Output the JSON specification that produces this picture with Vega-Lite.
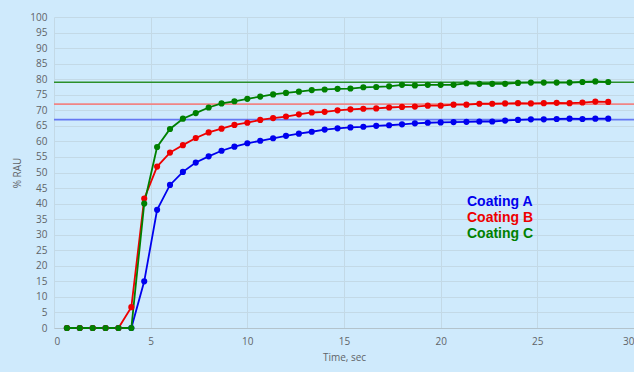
{
  "$schema": "https://vega.github.io/schema/vega-lite/v6.json",
  "width": 580,
  "height": 311,
  "autosize": {"type": "none"},
  "padding": {"left": 54, "top": 17, "right": 0, "bottom": 44},
  "background": "#cfeafc",
  "config": {
    "view": {"stroke": null},
    "font": "Open Sans",
    "axis": {
      "labelColor": "#5f6468",
      "titleColor": "#5f6468",
      "labelFontSize": 10,
      "titleFontSize": 10,
      "titleFontWeight": "normal",
      "ticks": false,
      "gridColor": "#c3d9e6",
      "gridWidth": 1
    }
  },
  "datasets": {
    "series": [
      {"x": 0.667, "y": 0, "s": "Coating A"}, {"x": 1.333, "y": 0, "s": "Coating A"}, {"x": 2, "y": 0, "s": "Coating A"}, {"x": 2.667, "y": 0, "s": "Coating A"}, {"x": 3.333, "y": 0, "s": "Coating A"}, {"x": 4, "y": 0, "s": "Coating A"}, {"x": 4.667, "y": 15, "s": "Coating A"}, {"x": 5.333, "y": 38, "s": "Coating A"}, {"x": 6, "y": 46, "s": "Coating A"}, {"x": 6.667, "y": 50.2, "s": "Coating A"}, {"x": 7.333, "y": 53.2, "s": "Coating A"}, {"x": 8, "y": 55.2, "s": "Coating A"}, {"x": 8.667, "y": 57, "s": "Coating A"}, {"x": 9.333, "y": 58.3, "s": "Coating A"}, {"x": 10, "y": 59.4, "s": "Coating A"}, {"x": 10.667, "y": 60.2, "s": "Coating A"}, {"x": 11.333, "y": 61, "s": "Coating A"}, {"x": 12, "y": 61.8, "s": "Coating A"}, {"x": 12.667, "y": 62.5, "s": "Coating A"}, {"x": 13.333, "y": 63.1, "s": "Coating A"}, {"x": 14, "y": 63.8, "s": "Coating A"}, {"x": 14.667, "y": 64.2, "s": "Coating A"}, {"x": 15.333, "y": 64.5, "s": "Coating A"}, {"x": 16, "y": 64.7, "s": "Coating A"}, {"x": 16.667, "y": 65, "s": "Coating A"}, {"x": 17.333, "y": 65.2, "s": "Coating A"}, {"x": 18, "y": 65.5, "s": "Coating A"}, {"x": 18.667, "y": 65.8, "s": "Coating A"}, {"x": 19.333, "y": 66, "s": "Coating A"}, {"x": 20, "y": 66.1, "s": "Coating A"}, {"x": 20.667, "y": 66.2, "s": "Coating A"}, {"x": 21.333, "y": 66.3, "s": "Coating A"}, {"x": 22, "y": 66.4, "s": "Coating A"}, {"x": 22.667, "y": 66.4, "s": "Coating A"}, {"x": 23.333, "y": 66.7, "s": "Coating A"}, {"x": 24, "y": 66.9, "s": "Coating A"}, {"x": 24.667, "y": 67.1, "s": "Coating A"}, {"x": 25.333, "y": 67.1, "s": "Coating A"}, {"x": 26, "y": 67.2, "s": "Coating A"}, {"x": 26.667, "y": 67.3, "s": "Coating A"}, {"x": 27.333, "y": 67.2, "s": "Coating A"}, {"x": 28, "y": 67.3, "s": "Coating A"}, {"x": 28.667, "y": 67.3, "s": "Coating A"},
      {"x": 0.667, "y": 0, "s": "Coating B"}, {"x": 1.333, "y": 0, "s": "Coating B"}, {"x": 2, "y": 0, "s": "Coating B"}, {"x": 2.667, "y": 0, "s": "Coating B"}, {"x": 3.333, "y": 0, "s": "Coating B"}, {"x": 4, "y": 6.7, "s": "Coating B"}, {"x": 4.667, "y": 41.6, "s": "Coating B"}, {"x": 5.333, "y": 51.9, "s": "Coating B"}, {"x": 6, "y": 56.4, "s": "Coating B"}, {"x": 6.667, "y": 58.8, "s": "Coating B"}, {"x": 7.333, "y": 61.1, "s": "Coating B"}, {"x": 8, "y": 62.9, "s": "Coating B"}, {"x": 8.667, "y": 64.1, "s": "Coating B"}, {"x": 9.333, "y": 65.3, "s": "Coating B"}, {"x": 10, "y": 66, "s": "Coating B"}, {"x": 10.667, "y": 66.9, "s": "Coating B"}, {"x": 11.333, "y": 67.5, "s": "Coating B"}, {"x": 12, "y": 68, "s": "Coating B"}, {"x": 12.667, "y": 68.7, "s": "Coating B"}, {"x": 13.333, "y": 69.3, "s": "Coating B"}, {"x": 14, "y": 69.5, "s": "Coating B"}, {"x": 14.667, "y": 70, "s": "Coating B"}, {"x": 15.333, "y": 70.3, "s": "Coating B"}, {"x": 16, "y": 70.5, "s": "Coating B"}, {"x": 16.667, "y": 70.6, "s": "Coating B"}, {"x": 17.333, "y": 70.9, "s": "Coating B"}, {"x": 18, "y": 71.1, "s": "Coating B"}, {"x": 18.667, "y": 71.2, "s": "Coating B"}, {"x": 19.333, "y": 71.5, "s": "Coating B"}, {"x": 20, "y": 71.5, "s": "Coating B"}, {"x": 20.667, "y": 71.8, "s": "Coating B"}, {"x": 21.333, "y": 71.8, "s": "Coating B"}, {"x": 22, "y": 72.1, "s": "Coating B"}, {"x": 22.667, "y": 72.1, "s": "Coating B"}, {"x": 23.333, "y": 72.2, "s": "Coating B"}, {"x": 24, "y": 72.3, "s": "Coating B"}, {"x": 24.667, "y": 72.2, "s": "Coating B"}, {"x": 25.333, "y": 72.3, "s": "Coating B"}, {"x": 26, "y": 72.4, "s": "Coating B"}, {"x": 26.667, "y": 72.3, "s": "Coating B"}, {"x": 27.333, "y": 72.5, "s": "Coating B"}, {"x": 28, "y": 72.8, "s": "Coating B"}, {"x": 28.667, "y": 72.7, "s": "Coating B"},
      {"x": 0.667, "y": 0, "s": "Coating C"}, {"x": 1.333, "y": 0, "s": "Coating C"}, {"x": 2, "y": 0, "s": "Coating C"}, {"x": 2.667, "y": 0, "s": "Coating C"}, {"x": 3.333, "y": 0, "s": "Coating C"}, {"x": 4, "y": 0, "s": "Coating C"}, {"x": 4.667, "y": 40, "s": "Coating C"}, {"x": 5.333, "y": 58.2, "s": "Coating C"}, {"x": 6, "y": 64, "s": "Coating C"}, {"x": 6.667, "y": 67.3, "s": "Coating C"}, {"x": 7.333, "y": 69.1, "s": "Coating C"}, {"x": 8, "y": 70.9, "s": "Coating C"}, {"x": 8.667, "y": 72.2, "s": "Coating C"}, {"x": 9.333, "y": 72.9, "s": "Coating C"}, {"x": 10, "y": 73.7, "s": "Coating C"}, {"x": 10.667, "y": 74.4, "s": "Coating C"}, {"x": 11.333, "y": 75.1, "s": "Coating C"}, {"x": 12, "y": 75.6, "s": "Coating C"}, {"x": 12.667, "y": 76, "s": "Coating C"}, {"x": 13.333, "y": 76.5, "s": "Coating C"}, {"x": 14, "y": 76.7, "s": "Coating C"}, {"x": 14.667, "y": 76.9, "s": "Coating C"}, {"x": 15.333, "y": 77, "s": "Coating C"}, {"x": 16, "y": 77.4, "s": "Coating C"}, {"x": 16.667, "y": 77.5, "s": "Coating C"}, {"x": 17.333, "y": 77.7, "s": "Coating C"}, {"x": 18, "y": 78.2, "s": "Coating C"}, {"x": 18.667, "y": 78, "s": "Coating C"}, {"x": 19.333, "y": 78.2, "s": "Coating C"}, {"x": 20, "y": 78.2, "s": "Coating C"}, {"x": 20.667, "y": 78.2, "s": "Coating C"}, {"x": 21.333, "y": 78.7, "s": "Coating C"}, {"x": 22, "y": 78.5, "s": "Coating C"}, {"x": 22.667, "y": 78.5, "s": "Coating C"}, {"x": 23.333, "y": 78.5, "s": "Coating C"}, {"x": 24, "y": 78.8, "s": "Coating C"}, {"x": 24.667, "y": 78.9, "s": "Coating C"}, {"x": 25.333, "y": 78.9, "s": "Coating C"}, {"x": 26, "y": 78.9, "s": "Coating C"}, {"x": 26.667, "y": 78.9, "s": "Coating C"}, {"x": 27.333, "y": 79.1, "s": "Coating C"}, {"x": 28, "y": 79.3, "s": "Coating C"}, {"x": 28.667, "y": 79.1, "s": "Coating C"}
    ],
    "plateaus": [
      {"s": "Coating A", "v": 67},
      {"s": "Coating B", "v": 72},
      {"s": "Coating C", "v": 79}
    ]
  },
  "layer": [
    {
      "data": {"name": "plateaus"},
      "mark": {"type": "rule", "strokeWidth": 1.6},
      "encoding": {
        "y": {
          "field": "v",
          "type": "quantitative",
          "scale": {"domain": [0, 100], "nice": false},
          "axis": {
            "values": [0, 5, 10, 15, 20, 25, 30, 35, 40, 45, 50, 55, 60, 65, 70, 75, 80, 85, 90, 95, 100],
            "title": "% RAU",
            "domain": false,
            "labelPadding": 7,
            "titlePadding": 7,
            "grid": true
          }
        },
        "stroke": {
          "field": "s",
          "type": "nominal",
          "scale": {"domain": ["Coating C", "Coating B", "Coating A"], "range": ["#2b8f2b", "#f08585", "#6678f2"]},
          "legend": null
        }
      }
    },
    {
      "data": {"name": "series"},
      "mark": {"type": "line", "strokeWidth": 1.8, "point": {"filled": true, "size": 38, "opacity": 1}},
      "encoding": {
        "x": {
          "field": "x",
          "type": "quantitative",
          "scale": {"domain": [0, 30], "nice": false},
          "axis": {
            "orient": "bottom",
            "values": [0, 5, 10, 15, 20, 25, 30],
            "title": "Time, sec",
            "domainColor": "#b3c3cc",
            "labelPadding": 8,
            "titlePadding": 6,
            "grid": true
          }
        },
        "y": {
          "field": "y",
          "type": "quantitative",
          "scale": {"domain": [0, 100], "nice": false},
          "axis": {
            "values": [0, 5, 10, 15, 20, 25, 30, 35, 40, 45, 50, 55, 60, 65, 70, 75, 80, 85, 90, 95, 100],
            "title": "% RAU",
            "domain": false,
            "labelPadding": 7,
            "titlePadding": 7,
            "grid": true
          }
        },
        "color": {
          "field": "s",
          "type": "nominal",
          "scale": {"domain": ["Coating A", "Coating B", "Coating C"], "range": ["#0000ee", "#ee0000", "#008000"]},
          "legend": {
            "title": null,
            "orient": "none",
            "legendX": 399,
            "legendY": 178,
            "padding": 0,
            "symbolSize": 1,
            "symbolOpacity": 0,
            "labelOffset": 0,
            "labelFont": "Liberation Sans",
            "labelFontSize": 14,
            "labelFontWeight": "bold",
            "rowPadding": 2,
            "encode": {
              "labels": {"update": {"fill": {"scale": "color", "field": "value"}}}
            }
          }
        }
      }
    }
  ]
}
